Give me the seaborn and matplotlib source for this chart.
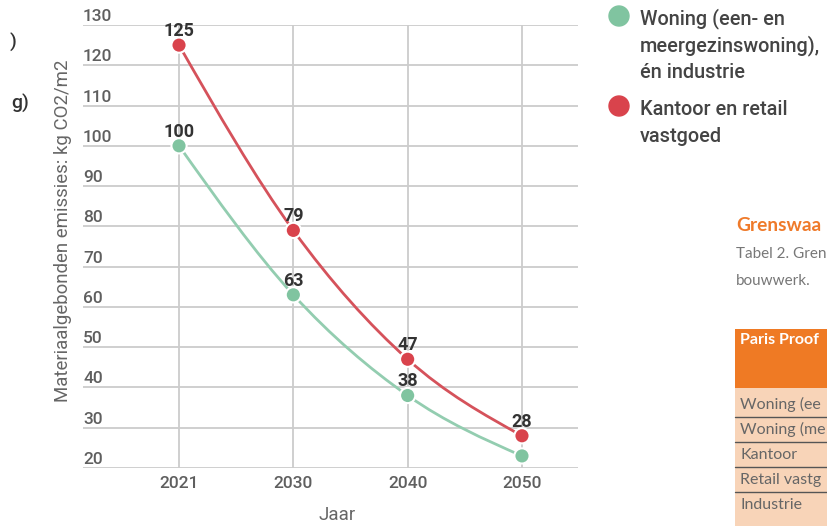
import numpy as np
import pandas as pd
import matplotlib
matplotlib.use("Agg")
import matplotlib.pyplot as plt
from matplotlib.path import Path
from matplotlib.patches import PathPatch, Rectangle, Circle
from matplotlib.transforms import ScaledTranslation
import seaborn as sns

# ---- data -----------------------------------------------------------------
years = ["2021", "2030", "2040", "2050"]
woning = [100, 63, 38, 23]
kantoor = [125, 79, 47, 28]
woning_labels = ["100", "63", "38", ""]
kantoor_labels = ["125", "79", "47", "28"]
series_names = ["Woning (een- en meergezinswoning), én industrie",
                "Kantoor en retail vastgoed"]
legend_lines = [["Woning (een- en", "meergezinswoning),", "én industrie"],
                ["Kantoor en retail", "vastgoed"]]
y_ticks = list(range(20, 131, 10))
table_rows = ["Woning (ee", "Woning (me", "Kantoor", "Retail vastg", "Industrie"]

GREEN_LINE, GREEN_DOT = "#93cdb0", "#80c4a0"
RED_LINE, RED_DOT = "#d5525b", "#d9434c"

sns.set_theme(style="white")
plt.rcParams["font.family"] = ["Roboto", "DejaVu Sans"]
LATO = ["Lato", "DejaVu Sans"]

W, H = 827, 526
fig = plt.figure(figsize=(W / 100, H / 100), dpi=100)
ax = fig.add_axes([83 / W, 1 - 468 / H, (578 - 83) / W, (468 - 25) / H])

x_idx = np.arange(len(years))
df = pd.DataFrame({
    "pos": np.concatenate([x_idx, x_idx]),
    "value": woning + kantoor,
    "serie": [series_names[0]] * len(years) + [series_names[1]] * len(years),
})


def monotone_path(xs, ys):
    """Monotone cubic (Fritsch-Carlson) curve through the points as Bezier path."""
    xs = np.asarray(xs, float)
    ys = np.asarray(ys, float)
    n = len(xs)
    h = np.diff(xs)
    s = np.diff(ys) / h
    m = np.zeros(n)
    for i in range(1, n - 1):
        p = (s[i - 1] * h[i] + s[i] * h[i - 1]) / (h[i - 1] + h[i])
        m[i] = (np.sign(s[i - 1]) + np.sign(s[i])) * min(abs(s[i - 1]), abs(s[i]), 0.5 * abs(p))
    m[0] = (3 * s[0] - m[1]) / 2
    m[-1] = (3 * s[-1] - m[-2]) / 2
    verts = [(xs[0], ys[0])]
    codes = [Path.MOVETO]
    for i in range(n - 1):
        d = h[i] / 3
        verts += [(xs[i] + d, ys[i] + m[i] * d),
                  (xs[i + 1] - d, ys[i + 1] - m[i + 1] * d),
                  (xs[i + 1], ys[i + 1])]
        codes += [Path.CURVE4] * 3
    return Path(verts, codes)


for vals, col in [(woning, GREEN_LINE), (kantoor, RED_LINE)]:
    ax.add_patch(PathPatch(monotone_path(x_idx, vals), facecolor="none",
                           edgecolor=col, lw=2.0, zorder=3))

sns.scatterplot(data=df, x="pos", y="value", hue="serie",
                palette=[GREEN_DOT, RED_DOT], s=120, edgecolor="white",
                linewidth=1.5, legend=False, zorder=4, ax=ax)

for vals, labs in [(woning, woning_labels), (kantoor, kantoor_labels)]:
    for xi, v, lab in zip(x_idx, vals, labs):
        if lab:
            ax.annotate(lab, (xi, v), xytext=(0, 6.5), textcoords="offset points",
                        ha="center", va="baseline", fontsize=13, fontweight="bold",
                        color="#333333", zorder=5)

ax.set_xlim(-0.84, 3.49)
ax.set_ylim(20, 130)
ax.set_xticks(x_idx)
ax.set_xticklabels(years, fontsize=12.5, color="#5f5f5f", fontweight="medium")
ax.set_yticks(y_ticks)
ax.set_yticklabels([])
ax.tick_params(axis="both", length=0)
ax.tick_params(axis="x", pad=6)
ax.grid(True, color="#cccccc", lw=1.3)
for sp in ax.spines.values():
    sp.set_visible(False)
ax.set_xlabel("")
ax.set_ylabel("")

# tick labels sit just above their grid lines at the left edge
ytrans = ax.get_yaxis_transform() + ScaledTranslation(0, 4 / 100, fig.dpi_scale_trans)
for t in y_ticks:
    ax.text(0, t, str(t), transform=ytrans, ha="left", va="baseline",
            fontsize=12.5, color="#5f5f5f", fontweight="medium")

fig.text(337 / W, 1 - 515 / H, "Jaar", ha="center", va="center",
         fontsize=13.5, color="#666666")
fig.text(63 / W, 1 - 231 / H, "Materiaalgebonden emissies: kg CO2/m2",
         rotation=90, ha="center", va="center", fontsize=13.4, color="#666666")

# ---- surrounding page elements (pixel coordinates) -----------------------
ov = fig.add_axes([0, 0, 1, 1], facecolor="none")
ov.set_xlim(0, W)
ov.set_ylim(H, 0)
ov.axis("off")

ov.text(16, 48, ")", ha="right", va="baseline", fontsize=14,
        color="#333333", fontweight="medium")
ov.text(29, 109, "g)", ha="right", va="baseline", fontsize=14,
        color="#333333", fontweight="medium")

# legend
ov.add_patch(Circle((619, 16), 10, color=GREEN_DOT))
ov.add_patch(Circle((619, 106), 10, color=RED_DOT))
for lines, baselines in [(legend_lines[0], [24, 51.5, 78.5]),
                         (legend_lines[1], [115, 142])]:
    for txt, by in zip(lines, baselines):
        ov.text(640, by, txt, ha="left", va="baseline", fontsize=14.3,
                color="#444444", fontweight="medium")

# text block and table on the right
ov.text(736, 231, "Grenswaa", ha="left", va="baseline", fontsize=13.8,
        color="#ef7a2a", fontweight="bold", family=LATO)
ov.text(736, 258, "Tabel 2. Gren", ha="left", va="baseline",
        fontsize=11, color="#777777", family=LATO)
ov.text(736, 285, "bouwwerk.", ha="left", va="baseline",
        fontsize=11, color="#777777", family=LATO)

ov.add_patch(Rectangle((735, 329), 100, 59, color="#ef7a24", lw=0))
ov.text(740, 344, "Paris Proof", ha="left", va="baseline", fontsize=11.5,
        color="white", fontweight="bold", family=LATO)
ov.add_patch(Rectangle((735, 388), 100, 140, color="#f8d4b8", lw=0))
row_y = [404, 429, 454, 479, 504]
for i, (ry, name) in enumerate(zip(row_y, table_rows)):
    ov.text(740, ry + 5, name, ha="left", va="baseline", fontsize=11.5,
            color="#666666", family=LATO)
    if i < len(row_y) - 1:
        ov.plot([735, 830], [ry + 12.5, ry + 12.5], color="#555555", lw=1)

fig.savefig("out.png", dpi=100)
